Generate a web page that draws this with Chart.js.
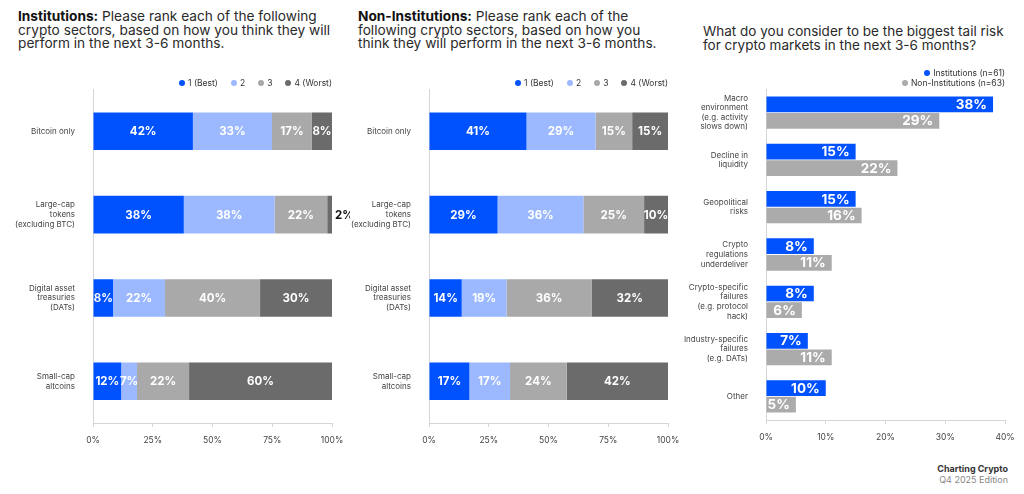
<!DOCTYPE html>
<html>
<head>
<meta charset="utf-8">
<script src="https://cdn.jsdelivr.net/npm/chart.js@4.4.1/dist/chart.umd.min.js"></script>
<style>
  html, body { margin: 0; padding: 0; background: #fff; }
  body { width: 1024px; height: 494px; position: relative; overflow: hidden; font-family: Inter, "Noto Sans", sans-serif; }
  .title { position: absolute; font-size: 13.7px; line-height: 13.6px; color: #2a2a2a; white-space: nowrap; }
  .title b { color: #111; font-weight: 700; }
  .box { position: absolute; }
  .legend { position: absolute; font-size: 8.5px; color: #333; text-align: right; white-space: nowrap; }
  .legend span { display: inline-block; margin-left: 13px; }
  .legend i { display: inline-block; width: 6px; height: 6px; border-radius: 50%; margin-right: 3px; vertical-align: 0px; }
  .footer { position: absolute; right: 16px; top: 464px; text-align: right; font-size: 9px; line-height: 10.5px; }
</style>
</head>
<body>

<div class="title" style="left:18px;top:10px"><b>Institutions:</b> Please rank each of the following<br>crypto sectors, based on how you think they will<br>perform in the next 3-6 months.</div>
<div class="title" style="left:358px;top:10px"><b>Non-Institutions:</b> Please rank each of the<br>following crypto sectors, based on how you<br>think they will perform in the next 3-6 months.</div>
<div class="title" style="left:703px;top:25px;font-size:13.5px">What do you consider to be the biggest tail risk<br>for crypto markets in the next 3-6 months?</div>

<div class="box" style="left:0;top:70px;width:350px;height:383px"><canvas id="instChart"></canvas></div>
<div class="box" style="left:340px;top:70px;width:346px;height:383px"><canvas id="nonInstChart"></canvas></div>
<div class="box" style="left:680px;top:70px;width:344px;height:380px"><canvas id="riskChart"></canvas></div>

<div class="legend" id="legend1" style="left:0;width:332px;top:78px;line-height:10px"></div>
<div class="legend" id="legend2" style="left:340px;width:328px;top:78px;line-height:10px"></div>
<div class="legend" id="legend3" style="left:680px;width:325px;top:69px;line-height:9.5px"></div>

<div class="footer"><b style="color:#333">Charting Crypto</b><br><span style="color:#888">Q4 2025 Edition</span></div>

<script>
// sector ranking charts
const sectorLabels = ['Bitcoin only', ['Large-cap', 'tokens', '(excluding BTC)'], ['Digital asset', 'treasuries', '(DATs)'], ['Small-cap', 'altcoins']];
const rankLabels = ['1 (Best)', '2', '3', '4 (Worst)'];
const instRank1 = [41.8, 38, 8.4, 11.8];
const instRank2 = [33.1, 38, 21.7, 6.6];
const instRank3 = [16.7, 22, 39.8, 21.8];
const instRank4 = [8.4, 2, 30.1, 59.8];
const nonInstRank1 = [40.8, 28.7, 13.7, 16.9];
const nonInstRank2 = [28.9, 35.9, 18.8, 17.0];
const nonInstRank3 = [15.3, 25.4, 35.5, 23.7];
const nonInstRank4 = [15.0, 10, 32.0, 42.4];
const pctTicks = [0, 25, 50, 75, 100];

// tail risk chart
const riskLabels = [['Macro', 'environment', '(e.g. activity', 'slows down)'], ['Decline in', 'liquidity'], ['Geopolitical', 'risks'], ['Crypto', 'regulations', 'underdeliver'], ['Crypto-specific', 'failures', '(e.g. protocol', 'hack)'], ['Industry-specific', 'failures', '(e.g. DATs)'], 'Other'];
const groupLabels = ['Institutions (n=61)', 'Non-Institutions (n=63)'];
const instRisk = [38, 15, 15, 8, 8, 7, 10];
const nonInstRisk = [29, 22, 16, 11, 6, 11, 5];
const riskTicks = [0, 10, 20, 30, 40];

const rankColors = ['#0052FF', '#9CB9FF', '#A9A9A9', '#6B6B6B'];
const groupColors = ['#0052FF', '#ABABAB'];
const FONT = 'Inter, "Noto Sans", sans-serif';

// draws % labels on bars (center of segment, or at bar end)
const barLabels = {
  id: 'barLabels',
  afterDatasetsDraw(chart, args, opts) {
    const ctx = chart.ctx;
    ctx.save();
    ctx.textBaseline = 'middle';
    chart.data.datasets.forEach((ds, i) => {
      const meta = chart.getDatasetMeta(i);
      meta.data.forEach((bar, j) => {
        const v = ds.data[j];
        const txt = Math.round(v) + '%';
        ctx.font = '700 ' + opts.size + 'px ' + FONT;
        if (opts.mode === 'end') {
          ctx.fillStyle = '#fff';
          ctx.textAlign = 'right';
          ctx.fillText(txt, bar.x - 6, bar.y + 0.5);
        } else if (v < 4) {
          ctx.fillStyle = '#111';
          ctx.textAlign = 'left';
          ctx.fillText(txt, bar.x + 3, bar.y + 0.5);
        } else {
          ctx.fillStyle = '#fff';
          ctx.textAlign = 'center';
          ctx.fillText(txt, (bar.x + bar.base) / 2, bar.y + 0.5);
        }
      });
    });
    ctx.restore();
  }
};

function axisX(max, ticks, stacked) {
  return {
    min: 0, max: max,
    stacked: stacked,
    afterBuildTicks: s => { s.ticks = ticks.map(v => ({ value: v })); },
    afterFit: s => { s.height = 30; s.paddingLeft = 0; s.paddingRight = 0; },
    grid: { drawOnChartArea: false, drawTicks: true, tickLength: 4, color: '#D3D7DC' },
    border: { display: true, color: '#D3D7DC' },
    ticks: { color: '#444', font: { family: FONT, size: 8.5 }, padding: 8, callback: v => v + '%' }
  };
}

function axisY(width, stacked) {
  return {
    stacked: stacked,
    afterFit: s => { s.width = width; },
    grid: { display: false },
    border: { display: true, color: '#D3D7DC' },
    ticks: { color: '#444', font: { family: FONT, size: 8, lineHeight: 1.2 }, padding: 10 }
  };
}

function rankChart(id, series, yWidth) {
  return new Chart(document.getElementById(id), {
    type: 'bar',
    data: {
      labels: sectorLabels,
      datasets: series.map((d, i) => ({
        label: rankLabels[i],
        data: d,
        backgroundColor: rankColors[i],
        borderWidth: 0,
        barPercentage: 0.5,
        categoryPercentage: 0.9
      }))
    },
    options: {
      indexAxis: 'y',
      responsive: true,
      maintainAspectRatio: false,
      animation: false,
      layout: { padding: { top: 10, right: 18, bottom: 0, left: 0 } },
      plugins: { legend: { display: false }, tooltip: { enabled: false }, barLabels: { mode: 'center', size: 11.5 } },
      scales: { x: axisX(100, pctTicks, true), y: axisY(yWidth, true) }
    },
    plugins: [barLabels]
  });
}

const instChart = rankChart('instChart', [instRank1, instRank2, instRank3, instRank4], 93);
const nonInstChart = rankChart('nonInstChart', [nonInstRank1, nonInstRank2, nonInstRank3, nonInstRank4], 89);

const riskChart = new Chart(document.getElementById('riskChart'), {
  type: 'bar',
  data: {
    labels: riskLabels,
    datasets: [instRisk, nonInstRisk].map((d, i) => ({
      label: groupLabels[i],
      data: d,
      backgroundColor: groupColors[i],
      borderWidth: 0,
      barPercentage: 0.95,
      categoryPercentage: 0.7
    }))
  },
  options: {
    indexAxis: 'y',
    responsive: true,
    maintainAspectRatio: false,
    animation: false,
    layout: { padding: { top: 19, right: 19, bottom: 0, left: 0 } },
    plugins: { legend: { display: false }, tooltip: { enabled: false }, barLabels: { mode: 'end', size: 13.5 } },
    scales: { x: axisX(40, riskTicks, false), y: axisY(86, false) }
  },
  plugins: [barLabels]
});

// html legends from the chart datasets
function buildLegend(elId, chart, block) {
  const el = document.getElementById(elId);
  chart.data.datasets.forEach(ds => {
    const item = document.createElement(block ? 'div' : 'span');
    if (block) item.style.marginLeft = '0';
    item.innerHTML = '<i style="background:' + ds.backgroundColor + '"></i>' + ds.label;
    el.appendChild(item);
  });
}
buildLegend('legend1', instChart, false);
buildLegend('legend2', nonInstChart, false);
buildLegend('legend3', riskChart, true);
</script>
</body>
</html>
